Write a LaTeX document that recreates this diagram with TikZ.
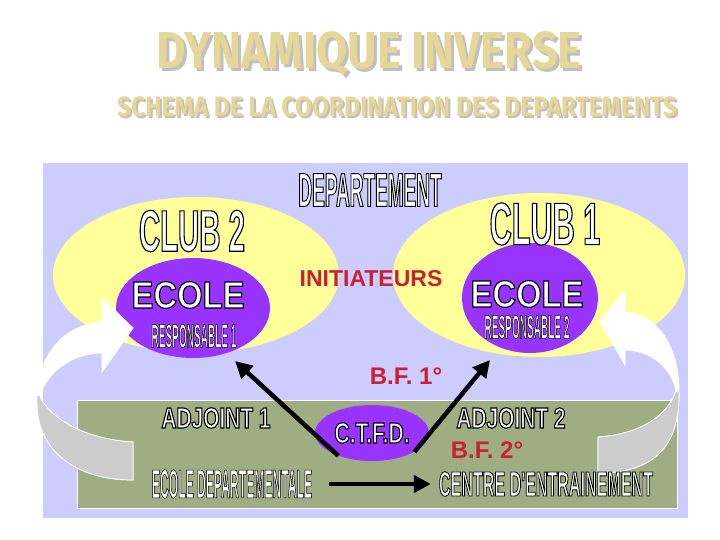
\documentclass[tikz,border=0pt]{standalone}
\usepackage{fontspec}
\setmainfont{Liberation Sans}
\newfontfamily\titrefont{Fira Sans}
\usepackage{graphicx}
\usepackage{xcolor}
\usetikzlibrary{shapes.geometric, arrows.meta, positioning, calc}

\definecolor{lavande}{RGB}{204,204,255}
\definecolor{jaune}{RGB}{255,255,153}
\definecolor{violet}{RGB}{153,51,255}
\definecolor{olive}{RGB}{158,174,130}
\definecolor{rougetxt}{RGB}{204,32,48}
\definecolor{sable}{RGB}{230,214,152}
\definecolor{ombre}{RGB}{192,192,192}
\definecolor{grisfleche}{RGB}{204,204,204}

\newcommand{\taille}[1]{\fontsize{#1}{#1}\selectfont}
% police etroite : #1 = etirement, #2 = corps
\newcommand{\etroit}[2]{\fontspec{Liberation Sans}[FakeStretch=#1]\bfseries\taille{#2}}
% texte blanc cerne de noir (mode de rendu 2 : remplir puis tracer)
\newcommand{\cerne}[2][1.1]{\special{pdf:literal direct 2 Tr 0 G #1 w}#2\special{pdf:literal direct 0 Tr}}

\tikzset{
  bulle/.style={ellipse, fill=violet, draw=none, inner sep=0pt},
  blanc/.style={text=white, inner sep=0pt},
  rouge/.style={text=rougetxt, inner sep=0pt, font=\bfseries\taille{24}},
  ruban/.style={fill=white, draw=white, line width=0.8pt}
}

\begin{document}
\begin{tikzpicture}[x=1pt, y=-1pt,
  fleche/.style={line width=4.5pt, -{Triangle[length=17pt,width=17pt]}},
  titre/.style={inner sep=0pt, text=sable, font=\titrefont\bfseries\taille{52}},
  soustitre/.style={inner sep=0pt, text=sable, font=\titrefont\bfseries\taille{28}}]
\useasboundingbox (0,0) rectangle (720,540);

% Titres
\node[titre, text=ombre] (titreombre) at (372,57) {\scalebox{0.87}[1]{DYNAMIQUE INVERSE}};
\node[titre] (titre) at (369,54) {\scalebox{0.87}[1]{DYNAMIQUE INVERSE}};
\node[soustitre, text=ombre] (sousombre) at (399,109) {\scalebox{0.875}[1]{SCHEMA DE LA COORDINATION DES DEPARTEMENTS}};
\node[soustitre] (soustitre) at (397,107) {\scalebox{0.875}[1]{SCHEMA DE LA COORDINATION DES DEPARTEMENTS}};

% Fond
\fill[lavande] (43,163) rectangle (688,518);
\fill[jaune] (196,275) ellipse (143 and 78);
\fill[jaune] (539,275) ellipse (146 and 82);
\node[bulle, minimum width=154pt, minimum height=100pt] (ecoleG) at (193,308) {};
\node[bulle, minimum width=136pt, minimum height=110pt] (ecoleD) at (530,298) {};
\draw[fill=olive, draw=white, line width=0.8pt] (77,400) rectangle (677,508);
\node[bulle, blanc, minimum width=114pt, minimum height=56pt,
  font=\etroit{0.73}{29}] (ctfd) at (372,433) {\cerne{C.T.F.D.}};

% Fleches courbes
\path[ruban] (133,442) .. controls (95,440) and (55,425) .. (40,397)
  .. controls (45,375) and (70,353) .. (102,353)
  -- (102,372) -- (133,328) -- (102,298) -- (102,322)
  .. controls (60,325) and (35,360) .. (37,405)
  .. controls (38,450) and (75,480) .. (133,480) -- cycle;
\begin{scope}
\clip (0,396) rectangle (720,540);
\path[ruban, fill=grisfleche] (133,442) .. controls (95,440) and (55,425) .. (40,397)
  .. controls (45,375) and (70,353) .. (102,353)
  -- (102,372) -- (133,328) -- (102,298) -- (102,322)
  .. controls (60,325) and (35,360) .. (37,405)
  .. controls (38,450) and (75,480) .. (133,480) -- cycle;
\end{scope}
\path[ruban] (598,437) .. controls (635,435) and (668,418) .. (676,390)
  .. controls (670,365) and (648,350) .. (625,350)
  -- (625,365) -- (600,322) -- (625,290) -- (625,312)
  .. controls (660,315) and (680,350) .. (679,395)
  .. controls (679,450) and (650,473) .. (598,473) -- cycle;
\begin{scope}
\clip (0,392) rectangle (720,540);
\path[ruban, fill=grisfleche] (598,437) .. controls (635,435) and (668,418) .. (676,390)
  .. controls (670,365) and (648,350) .. (625,350)
  -- (625,365) -- (600,322) -- (625,290) -- (625,312)
  .. controls (660,315) and (680,350) .. (679,395)
  .. controls (679,450) and (650,473) .. (598,473) -- cycle;
\end{scope}

% Textes
\node[blanc, font=\etroit{0.40}{47.5}] (dep) at (370,190) {\cerne[0.9]{DEPARTEMENT}};
\node[blanc, font=\etroit{0.50}{58.7}] (club2) at (192,231) {\cerne{CLUB 2}};
\node[blanc, font=\etroit{0.51}{60}] (club1) at (545,224) {\cerne{CLUB 1}};
\node[blanc, font=\etroit{0.87}{37.7}] (ecoleGtxt) at (188,295) {\cerne{ECOLE}};
\node[blanc, font=\etroit{0.87}{37.7}] (ecoleDtxt) at (527,294) {\cerne{ECOLE}};
\node[blanc, font=\etroit{0.30}{33.5}] (resp1) at (194,336) {\cerne[0.5]{RESPONSABLE 1}};
\node[blanc, font=\etroit{0.30}{33.5}] (resp2) at (527,327) {\cerne[0.5]{RESPONSABLE 2}};
\node[rouge, font=\bfseries\taille{23}] (initiateurs) at (371,279) {INITIATEURS};
\node[rouge] (bf1) at (406,376) {B.F. 1°};
\node[rouge] (bf2) at (487,450) {B.F. 2°};
\node[blanc, font=\etroit{0.72}{29}] (adjoint1) at (216,418) {\cerne{ADJOINT 1}};
\node[blanc, font=\etroit{0.72}{29}] (adjoint2) at (511,418) {\cerne{ADJOINT 2}};
\node[blanc, font=\etroit{0.30}{40.5}] (ecoledep) at (232,484) {\cerne[0.5]{ECOLE DEPARTEMENTALE}};
\node[blanc, font=\etroit{0.46}{35}] (centre) at (546,484) {\cerne[0.8]{CENTRE D'ENTRAINEMENT}};

% Fleches noires
\coordinate (pointeG) at (235,361);
\coordinate (pointeD) at (490,360);
\draw[fleche] (ctfd.214) -- (pointeG);
\draw[fleche] (ctfd.-24) -- (pointeD);
\draw[fleche] ([xshift=17pt]ecoledep.east) -- ([xshift=-8pt]centre.west);
\end{tikzpicture}
\end{document}
